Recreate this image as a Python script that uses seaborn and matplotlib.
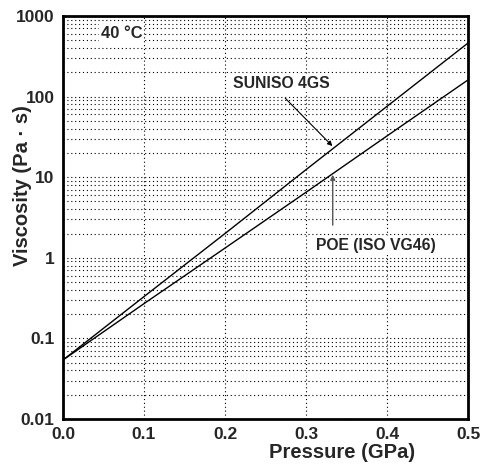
import seaborn as sns
import numpy as np
import matplotlib.pyplot as plt
import matplotlib.ticker as mticker
import pandas as pd

# values
pressure = [0.0, 0.1, 0.2, 0.3, 0.4, 0.5]
suniso = [0.054, 0.33, 2.0, 12.4, 75.7, 462.0]
poe = [0.054, 0.27, 1.32, 6.5, 32.5, 161.0]
oils = ["SUNISO 4GS", "POE (ISO VG46)"]

df = pd.DataFrame({
    "pressure": pressure * 2,
    "viscosity": suniso + poe,
    "oil": [oils[0]] * len(pressure) + [oils[1]] * len(pressure),
})

sns.set_style("white")
plt.rcParams['font.family'] = ['Liberation Sans', 'DejaVu Sans']
plt.rcParams['font.weight'] = 'bold'

fig = plt.figure(figsize=(4.8, 4.75), dpi=100)
ax = fig.add_axes([63 / 480, 1 - 419 / 475, 405 / 480, 403 / 475])

sns.lineplot(data=df, x="pressure", y="viscosity", hue="oil",
             palette=["black", "black"], linewidth=1.0, legend=False, ax=ax)

ax.set_yscale("log")
ax.set_xlim(0, 0.5)
ax.set_ylim(0.01, 1000)

ax.xaxis.set_major_locator(mticker.MultipleLocator(0.1))
ax.xaxis.set_minor_locator(mticker.MultipleLocator(0.02))
ax.xaxis.set_major_formatter(mticker.FormatStrFormatter("%.1f"))
ax.yaxis.set_major_locator(mticker.LogLocator(base=10, numticks=10))
ax.yaxis.set_minor_locator(mticker.LogLocator(base=10, subs=np.arange(2, 10), numticks=10))
ax.yaxis.set_minor_formatter(mticker.NullFormatter())
ax.yaxis.set_major_formatter(mticker.FuncFormatter(lambda v, p: f"{v:g}"))

ax.tick_params(axis="both", which="major", direction="in", length=9, width=1,
               labelsize=12.5, top=False, right=False)
ax.tick_params(axis="both", which="minor", direction="in", length=5, width=1,
               top=False, right=False)
ax.tick_params(axis="x", which="major", pad=6)
ax.tick_params(axis="y", which="major", pad=6)

ax.grid(True, axis="x", which="major", color="black", linestyle=(0, (1, 2.5)), linewidth=0.8)
ax.grid(True, axis="y", which="both", color="black", linestyle=(0, (1, 2.5)), linewidth=0.8)

for s in ax.spines.values():
    s.set_linewidth(2)
    s.set_color("black")

ax.set_xlabel("Pressure (GPa)", fontsize=14.5, fontweight="bold")
ax.set_ylabel("Viscosity (Pa \u00b7 s)", fontsize=14.5, fontweight="bold")
ax.xaxis.set_label_coords(0.69, -0.082)
ax.xaxis.label.set_va("center")
ax.yaxis.set_label_coords(-0.1, 0.58)
ax.yaxis.label.set_va("center")

box = dict(facecolor="white", edgecolor="none", pad=1)
ax.text(0.072, 615, "40 \u00b0C", fontsize=12, fontweight="bold", ha="center", va="center", bbox=box)
ax.annotate("", xy=(0.335, 23), xytext=(0.272, 101),
            arrowprops=dict(arrowstyle="-|>", color="black", lw=0.8, mutation_scale=7))
ax.text(0.27, 147, oils[0], fontsize=11.3, fontweight="bold", ha="center", va="center", bbox=box)
ax.annotate("", xy=(0.333, 11.6), xytext=(0.333, 2.35),
            arrowprops=dict(arrowstyle="-|>", color="#555555", lw=1.0, mutation_scale=7))
ax.text(0.386, 1.44, oils[1], fontsize=11.3, fontweight="bold", ha="center", va="center", bbox=box)

fig.savefig("out.png", dpi=100)
